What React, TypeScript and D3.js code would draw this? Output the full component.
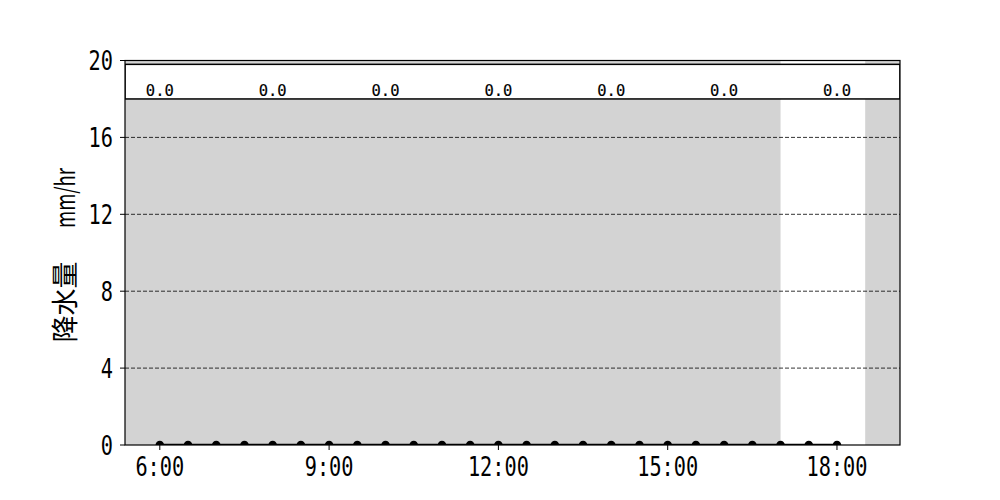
import * as d3 from "d3";

const day = (h: number, m = 0) => new Date(2024, 0, 1, h, m);

// half-hourly rain rate, 6:00 .. 18:00
const obsTimes = d3.range(0, 25).map((i) => day(6 + Math.floor(i / 2), (i % 2) * 30));
const rainValues = [0, 0, 0, 0, 0, 0, 0, 0, 0, 0, 0, 0, 0, 0, 0, 0, 0, 0, 0, 0, 0, 0, 0, 0, 0];

// 2-hourly totals shown in the top strip
const totalTimes = [day(6), day(8), day(10), day(12), day(14), day(16), day(18)];
const totalValues = [0, 0, 0, 0, 0, 0, 0];

// shaded background spans
const shadeBands: [Date, Date][] = [
  [day(5, 23), day(17, 0)],
  [day(18, 30), day(19, 7)],
];

const xTicks = [day(6), day(9), day(12), day(15), day(18)];
const yTicks = [0, 4, 8, 12, 16, 20];
const gridLevels = [4, 8, 12, 16];

const W = 1000;
const H = 500;
const mg = { left: 125, right: 100, top: 60.5, bottom: 55 };

export default function App() {
  const x = d3.scaleTime().domain([day(5, 23), day(19, 7)]).range([mg.left, W - mg.right]);
  const y = d3.scaleLinear().domain([0, 20]).range([H - mg.bottom, mg.top]);
  const line = d3
    .line<number>()
    .x((_, i) => x(obsTimes[i]))
    .y((d) => y(d));
  const fmt = d3.timeFormat("%-H:%M");
  const mono = "'DejaVu Sans Mono', monospace";
  const cjk = "'Noto Sans CJK JP', sans-serif";
  const pw = W - mg.left - mg.right;

  return (
    <svg
      width={W}
      height={H}
      viewBox={`0 0 ${W} ${H}`}
      style={{ position: "absolute", left: 0, top: 0, background: "#fff" }}
    >
      <defs>
        <clipPath id="plot">
          <rect x={mg.left} y={mg.top} width={pw} height={y(0) - mg.top} />
        </clipPath>
      </defs>
      <g clipPath="url(#plot)">
        {shadeBands.map(([a, b], i) => (
          <rect key={i} x={x(a)} y={mg.top} width={x(b) - x(a)} height={y(0) - mg.top} fill="#d3d3d3" />
        ))}
        {gridLevels.map((v) => (
          <line key={v} x1={mg.left} x2={W - mg.right} y1={y(v)} y2={y(v)} stroke="#000" strokeWidth={0.8} strokeDasharray="4,2" />
        ))}
        <rect x={mg.left} y={y(19.8)} width={pw} height={y(18) - y(19.8)} fill="#fff" stroke="#000" strokeWidth={1.5} />
        <path d={line(rainValues) ?? ""} fill="none" stroke="#000" strokeWidth={2.5} />
        {rainValues.map((v, i) => (
          <circle key={i} cx={x(obsTimes[i])} cy={y(v)} r={4.3} fill="#000" />
        ))}
      </g>
      {totalValues.map((v, i) => (
        <text key={i} x={x(totalTimes[i])} y={y(18.16)} textAnchor="middle" fontFamily={mono} fontSize={15.5} fill="#000" stroke="#000" strokeWidth={0.15}>
          {v.toFixed(1)}
        </text>
      ))}
      <rect x={mg.left} y={mg.top} width={pw} height={y(0) - mg.top} fill="none" stroke="#000" strokeWidth={1.2} />
      {yTicks.map((v) => (
        <g key={v}>
          <line x1={mg.left - 5} x2={mg.left} y1={y(v)} y2={y(v)} stroke="#000" strokeWidth={1} />
          <text
            transform={`translate(${mg.left - 12},${y(v) + 9.5}) scale(0.78,1)`}
            textAnchor="end"
            fontFamily={mono}
            fontSize={26}
            fill="#000"
          >
            {v}
          </text>
        </g>
      ))}
      {xTicks.map((t, i) => (
        <g key={i}>
          <line x1={x(t)} x2={x(t)} y1={y(0)} y2={y(0) + 5} stroke="#000" strokeWidth={1} />
          <text
            transform={`translate(${x(t)},${y(0) + 31}) scale(0.78,1)`}
            textAnchor="middle"
            fontFamily={mono}
            fontSize={26}
            fill="#000"
          >
            {fmt(t)}
          </text>
        </g>
      ))}
      <text transform="translate(75,302) rotate(-90)" textAnchor="middle" fontFamily={cjk} fontSize={27} fill="#000">
        降水量
      </text>
      <text
        transform="translate(75,198) rotate(-90)"
        textAnchor="middle"
        fontFamily={cjk}
        fontSize={27}
        fill="#000"
        textLength={60}
        lengthAdjust="spacingAndGlyphs"
      >
        mm/hr
      </text>
    </svg>
  );
}
